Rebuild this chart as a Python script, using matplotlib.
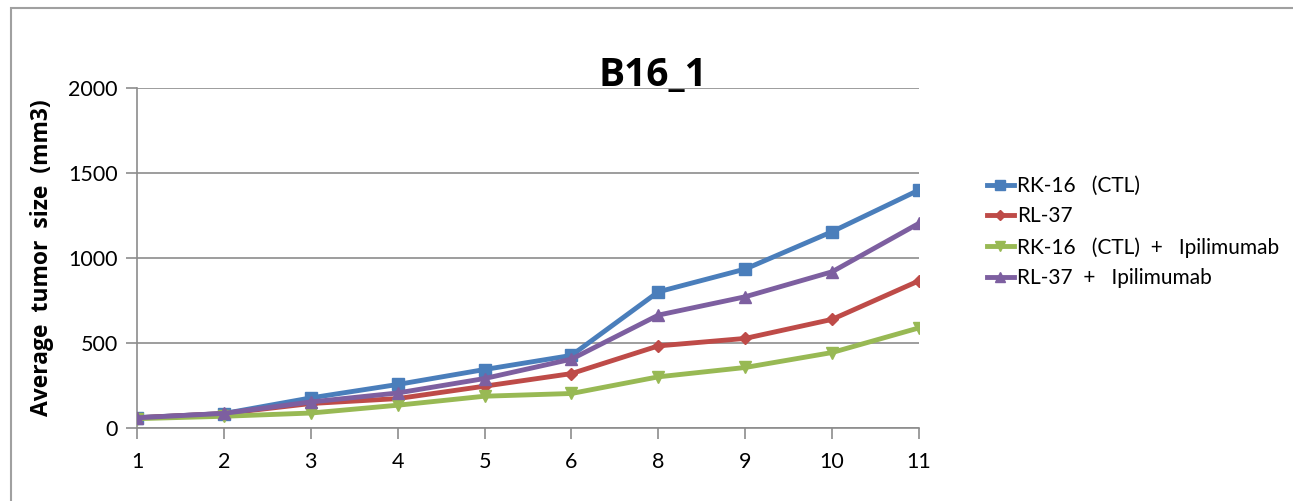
import matplotlib
matplotlib.use("Agg")
import matplotlib.pyplot as plt
from matplotlib.patches import Rectangle

plt.rcParams['font.family'] = ['Lato', 'DejaVu Sans']

# measurement days (categorical axis, day 7 skipped)
days = ["1", "2", "3", "4", "5", "6", "8", "9", "10", "11"]

rk16_ctl = [61, 85, 177, 256, 344, 427, 801, 935, 1155, 1400]
rl37 = [60, 85, 144, 173, 246, 320, 483, 527, 639, 866]
rk16_ipi = [55, 69, 88, 134, 187, 203, 301, 356, 444, 589]
rl37_ipi = [60, 86, 153, 206, 291, 405, 664, 772, 919, 1204]

series = [
    ("RK-16   (CTL)", rk16_ctl, "#4a7ebb", "s", 8),
    ("RL-37", rl37, "#be4b48", "D", 6.5),
    ("RK-16   (CTL)  +   Ipilimumab", rk16_ipi, "#98b954", "v", 9),
    ("RL-37  +   Ipilimumab", rl37_ipi, "#7d5fa0", "^", 9),
]

fig = plt.figure(figsize=(12.93, 5.01), dpi=100)
# chart area border, running off the right and bottom edges
fig.patches.append(Rectangle((11 / 1293, -0.1), 1.2, 1.1 - 8 / 501, transform=fig.transFigure,
                             fill=False, edgecolor="#a0a0a0", linewidth=1.5))

ax = fig.add_axes([137 / 1293, 1 - 428 / 501, (919 - 137) / 1293, (428 - 88) / 501])

x = list(range(len(days)))
# draw the control line last so it sits on top
for i in [2, 1, 3, 0]:
    label, vals, color, marker, ms = series[i]
    ax.plot(x, vals, color=color, marker=marker, markersize=ms, linewidth=3.5, label=label,
            zorder=3 + i)

ax.set_xlim(0, len(days) - 1)
ax.set_ylim(0, 2000)
ax.set_yticks([0, 500, 1000, 1500, 2000])
ax.set_xticks(x)
ax.set_xticklabels(days)
ax.grid(axis="y", color="#8c8c8c", linewidth=1.2)
ax.set_axisbelow(True)
for s in ["top", "right"]:
    ax.spines[s].set_visible(False)
for s in ["left", "bottom"]:
    ax.spines[s].set_color("#8c8c8c")
    ax.spines[s].set_linewidth(1.2)
ax.tick_params(axis="both", colors="#8c8c8c", length=8, width=1.2, labelcolor="black",
               labelsize=15.5)
ax.tick_params(axis="y", pad=6)
ax.tick_params(axis="x", pad=9)

ax.set_ylabel("Average  tumor  size  (mm3)", fontsize=16.5, fontweight="bold", labelpad=10,
              family=["Open Sans", "DejaVu Sans"])
fig.text(653 / 1293, 1 - 75 / 501, "B16_1", fontsize=28, fontweight="bold",
         ha="center", va="center", family=["Open Sans", "DejaVu Sans"])

handles, labels = ax.get_legend_handles_labels()
order = [labels.index(s[0]) for s in series]
fig.legend([handles[k] for k in order], [labels[k] for k in order],
           loc="center left", bbox_to_anchor=(968 / 1293, 1 - 232 / 501),
           frameon=False, fontsize=15, handlelength=1.3, handletextpad=0.15,
           labelspacing=0.5, markerscale=0.85)

fig.savefig("out.png", dpi=100)
